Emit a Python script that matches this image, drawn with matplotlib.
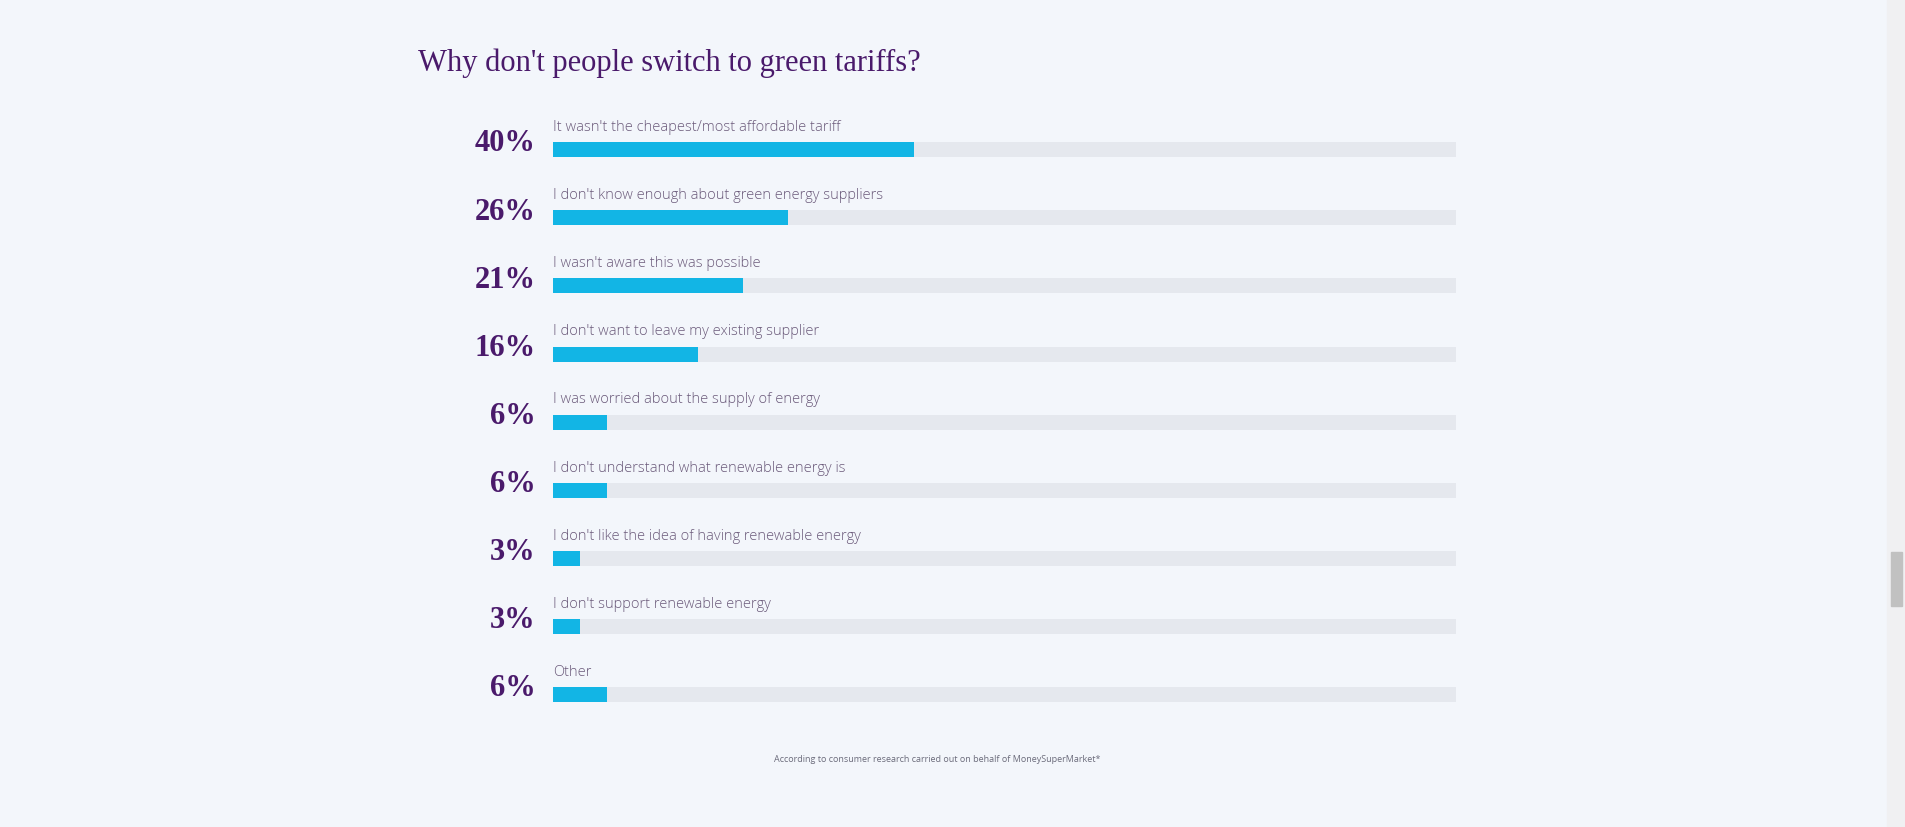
import matplotlib
matplotlib.use("Agg")
import matplotlib.pyplot as plt

categories = ["It wasn't the cheapest/most affordable tariff",
              "I don't know enough about green energy suppliers",
              "I wasn't aware this was possible",
              "I don't want to leave my existing supplier",
              "I was worried about the supply of energy",
              "I don't understand what renewable energy is",
              "I don't like the idea of having renewable energy",
              "I don't support renewable energy",
              "Other"]
values = [40, 26, 21, 16, 6, 6, 3, 3, 6]
title = "Why don't people switch to green tariffs?"
footer = "According to consumer research carried out on behalf of MoneySuperMarket*"

W, H = 1568, 681
bg = "#f3f6fb"
fig = plt.figure(figsize=(19.06, 8.28), dpi=100, facecolor=bg)

# overlay axes in display coords
bgax = fig.add_axes([0, 0, 1, 1])
bgax.set_xlim(0, W); bgax.set_ylim(H, 0); bgax.axis("off")
bgax.add_patch(plt.Rectangle((1552, 0), 16, H, color="#f0f0f2", zorder=0))
bgax.add_patch(plt.Rectangle((1556, 455), 9, 44, color="#c1c1c1", zorder=1))
bgax.text(344, 52, title, fontsize=22, family="Liberation Serif", color="#4a1a6b", va="center")
bgax.text(771, 625, footer, fontsize=6.5, family="Open Sans", color="#6b6b7b", ha="center", va="center")

top, bot = 96, 600
ax = fig.add_axes([455 / W, 1 - bot / H, (1198 - 455) / W, (bot - top) / H])
ax.set_facecolor("none")
ax.axis("off")
ax.set_xlim(0, 100)
n = len(categories)
ax.set_ylim(n - 0.5, -0.5)
ys = list(range(n))
ax.barh(ys, [100] * n, height=0.22, color="#e5e8ee", zorder=1)
ax.barh(ys, values, height=0.22, color="#12b5e5", zorder=2)
for y, c, v in zip(ys, categories, values):
    ax.text(0, y - 0.34, c, fontsize=10.5, family="Open Sans", fontweight="light",
            color="#6b5a7a", va="center", ha="left")
    ax.text(-1.9, y - 0.1, f"{v}%", fontsize=22, family="Liberation Serif", fontweight="bold",
            color="#4a1a6b", va="center", ha="right", clip_on=False)

fig.savefig("out.png", dpi=100, facecolor=bg)
